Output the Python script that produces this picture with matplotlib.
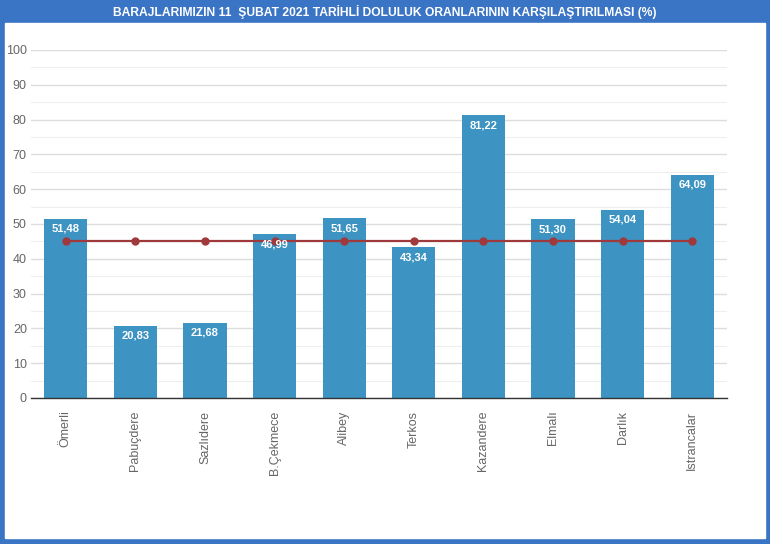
import matplotlib
matplotlib.use("Agg")
import matplotlib.pyplot as plt
from matplotlib.patches import Rectangle

baraj = ['Ömerli', 'Pabuçdere', 'Sazlıdere', 'B.Çekmece', 'Alibey',
         'Terkos', 'Kazandere', 'Elmalı', 'Darlık', 'Istrancalar']
doluluk = [51.48, 20.83, 21.68, 46.99, 51.65, 43.34, 81.22, 51.30, 54.04, 64.09]
ortalama = [45.1] * len(baraj)

mavi = '#3a74c4'
fig = plt.figure(figsize=(7.7, 5.44), dpi=100)
# cerceve ve baslik seridi
fig.add_artist(Rectangle((0, 0), 1, 1, transform=fig.transFigure, color=mavi, zorder=-10))
fig.add_artist(Rectangle((5/770, 6/544), 760/770, 515/544, transform=fig.transFigure,
                         color='white', zorder=-9))
fig.text(0.5, 1 - 12/544, 'BARAJLARIMIZIN 11  ŞUBAT 2021 TARİHLİ DOLULUK ORANLARININ KARŞILAŞTIRILMASI (%)',
         ha='center', va='center', color='white', fontsize=8.7, fontweight='bold',
         family='Liberation Sans')

ax = fig.add_axes([31/770, 1 - 398/544, 696/770, 348/544])
x = range(len(baraj))
ax.bar(x, doluluk, width=0.62, color='#3d93c2', zorder=2)
ax.plot(x, ortalama, color='#a0393c', lw=1.6, marker='o', ms=5, zorder=3)
for i, v in enumerate(doluluk):
    ax.text(i, v - 1.4, f'{v:.2f}'.replace('.', ','), ha='center', va='top',
            color='white', fontsize=8, fontweight='bold', family='Liberation Sans', zorder=4)

ax.set_xlim(-0.5, len(baraj) - 0.5)
ax.set_ylim(0, 100)
ax.set_yticks(range(0, 101, 10))
ax.set_yticks(range(5, 100, 10), minor=True)
ax.grid(axis='y', which='major', color='#dddddd', lw=1, zorder=0)
ax.grid(axis='y', which='minor', color='#eeeeee', lw=0.8, zorder=0)
ax.set_xticks(list(x))
ax.set_xticklabels(baraj, rotation=90, va='top', color='#666666', fontsize=9,
                   family='Liberation Sans')
ax.tick_params(axis='y', which='both', length=0, labelcolor='#666666', labelsize=9, pad=3)
ax.tick_params(axis='x', which='both', length=0, pad=9)
for t in ax.get_yticklabels():
    t.set_family('Liberation Sans')
for s in ['top', 'right', 'left']:
    ax.spines[s].set_visible(False)
ax.spines['bottom'].set_color('#333333')
ax.spines['bottom'].set_linewidth(1)

fig.savefig('out.png', dpi=100)
